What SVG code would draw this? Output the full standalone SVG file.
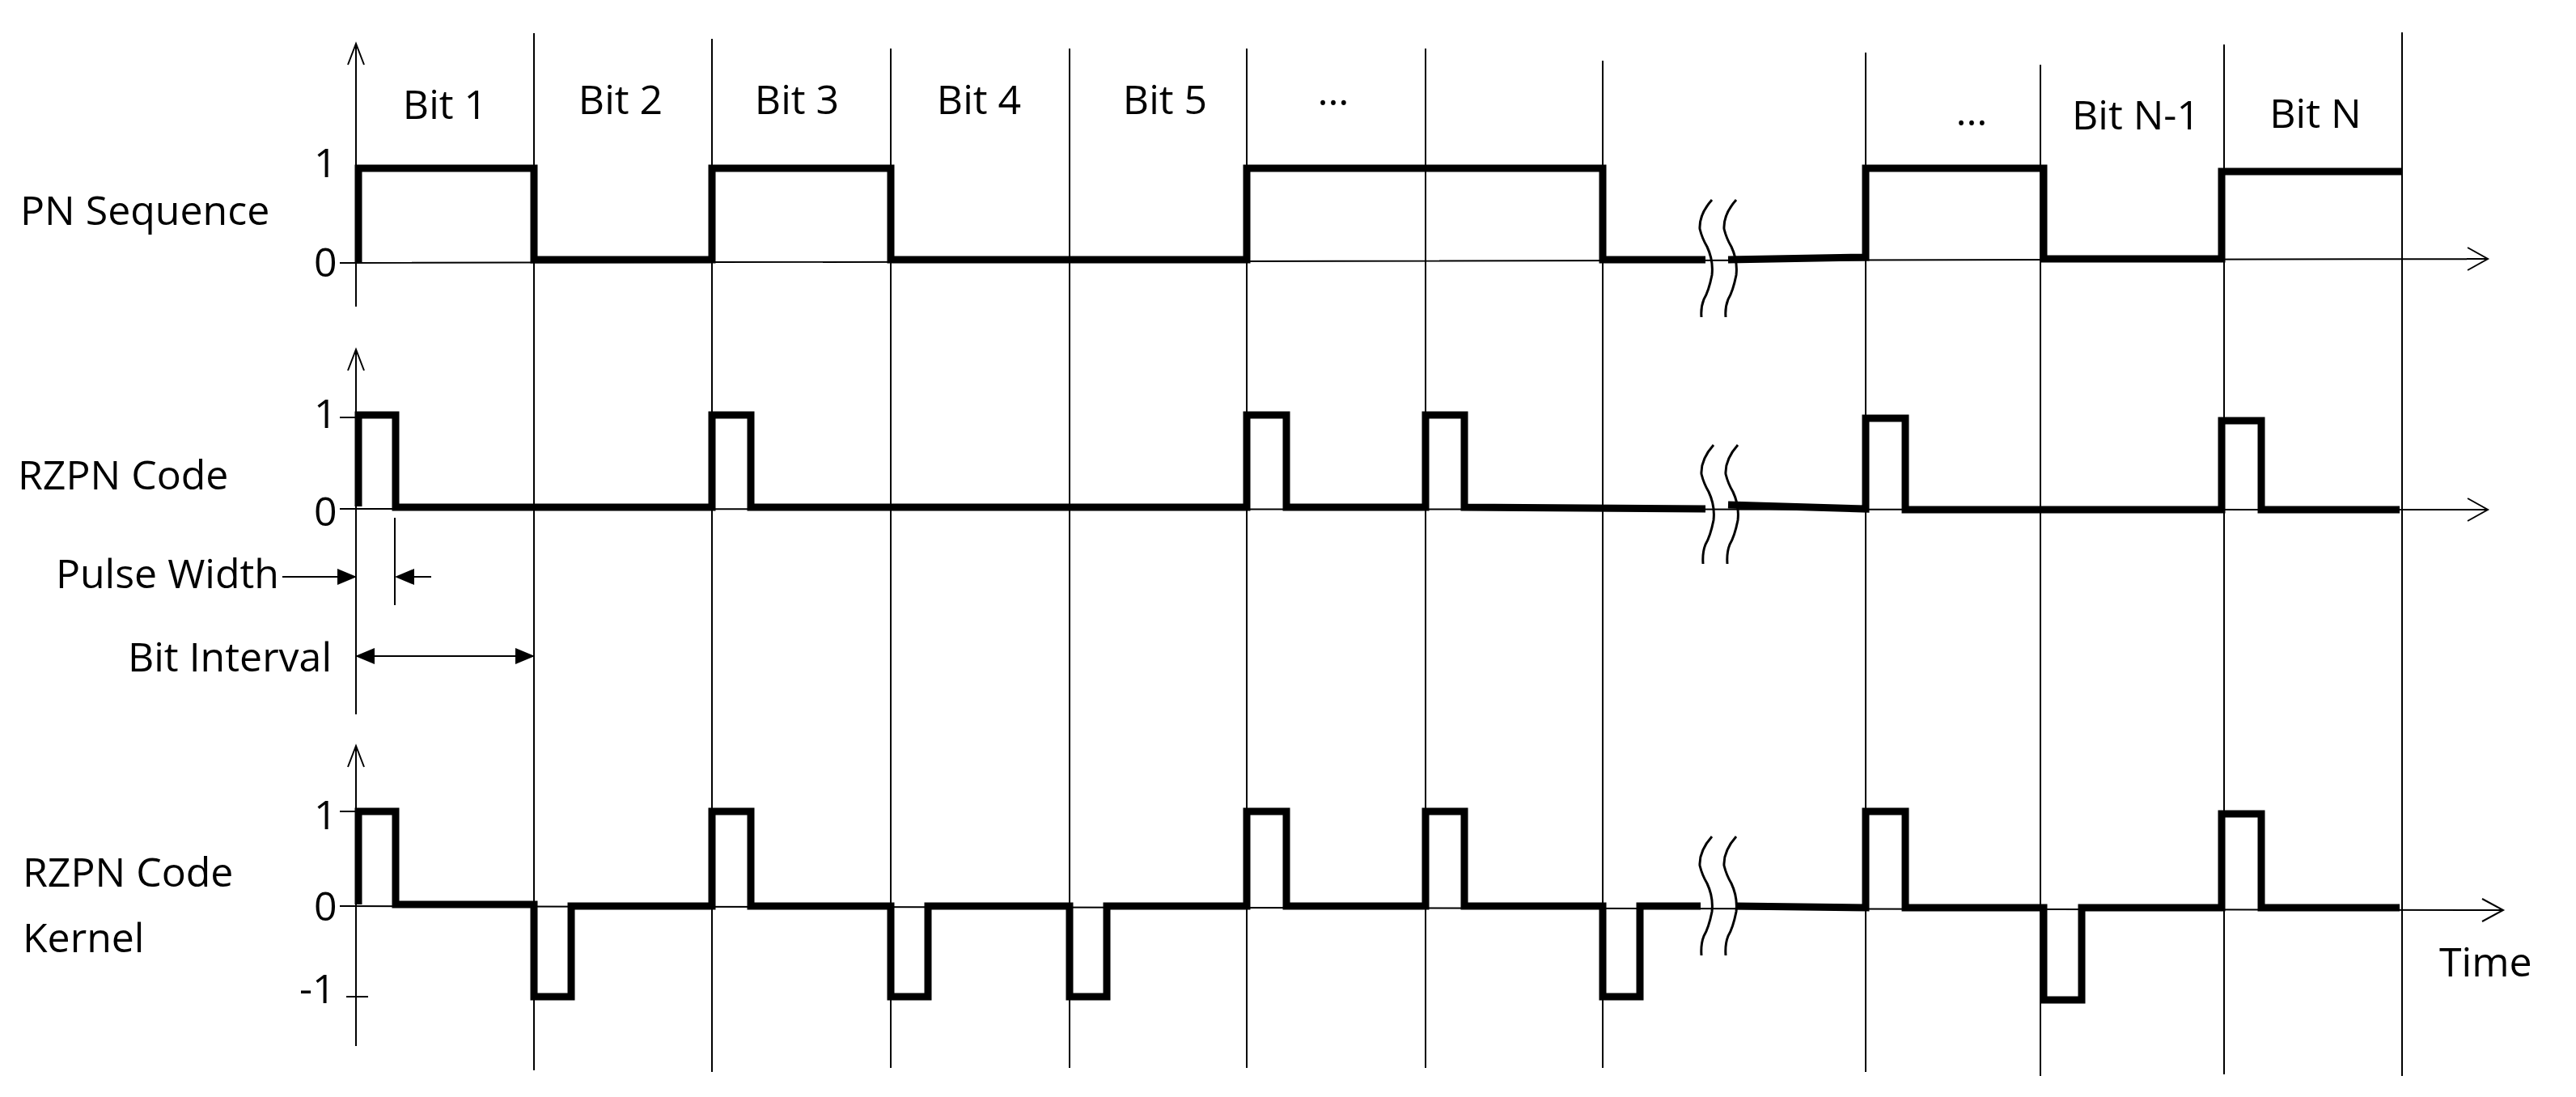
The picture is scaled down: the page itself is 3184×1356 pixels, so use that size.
<svg xmlns="http://www.w3.org/2000/svg" width="3184" height="1356" viewBox="0 0 3184 1356">
<style>
.t{font-family:"Open Sans","Liberation Sans",sans-serif;font-size:50px;fill:#000}
.ax{stroke:#000;stroke-width:2;fill:none}
.g{stroke:#000;stroke-width:2;fill:none}
.w{stroke:#000;stroke-width:9;fill:none;stroke-linejoin:miter}
.sq{stroke:#000;stroke-width:3;fill:none}
</style>
<defs>
<marker id="fa" markerWidth="12" markerHeight="12" refX="11" refY="6" orient="auto" markerUnits="userSpaceOnUse" viewBox="0 0 12 12"><path d="M0,0 L12,6 L0,12 Z" fill="#000"/></marker>
<marker id="fa2" markerWidth="24" markerHeight="24" refX="22" refY="12" orient="auto-start-reverse" markerUnits="userSpaceOnUse" viewBox="0 0 24 24"><path d="M0,2 L24,12 L0,22 Z" fill="#000"/></marker>
</defs>
<rect width="3184" height="1356" fill="#fff"/>
<g id="grid">
<path class="g" d="M660 41V1323M880 48V1325M1101 60V1320M1322 60V1320M1541 60V1320M1762 60V1320M1981 75V1320M2306 65V1325M2522 80V1330M2749 55V1328M2969 40V1330"/>
</g>
<g id="axes">
<path class="ax" d="M440 54V379M430 80L440 54L450 80M440 432V883M430 458L440 432L450 458M440 922V1293M430 948L440 922L450 948"/>
<path class="ax" d="M420 325L3075 320M3050 306L3075 320L3050 334M420 629L3075 630M3050 616L3075 630L3050 644M420 1120L3094 1125M3068 1111L3094 1125L3068 1139"/>
<path class="ax" d="M420 516H440M420 1003H440M428 1232H455M488 640V748"/>
</g>
<g id="labels">
<text class="t" x="25" y="278" font-size="54">PN Sequence</text>
<text class="t" x="22" y="605" font-size="54">RZPN Code</text>
<text class="t" x="28" y="1096" font-size="54">RZPN Code</text>
<text class="t" x="28" y="1177" font-size="54">Kernel</text>
<text class="t" x="388" y="219" font-size="52">1</text>
<text class="t" x="388" y="342" font-size="52">0</text>
<text class="t" x="388" y="529" font-size="52">1</text>
<text class="t" x="388" y="650" font-size="52">0</text>
<text class="t" x="388" y="1025" font-size="52">1</text>
<text class="t" x="388" y="1138" font-size="52">0</text>
<text class="t" x="370" y="1240" font-size="52">-1</text>
<text class="t" x="550" y="147" text-anchor="middle">Bit 1</text>
<text class="t" x="767" y="141" text-anchor="middle">Bit 2</text>
<text class="t" x="985" y="141" text-anchor="middle">Bit 3</text>
<text class="t" x="1210" y="141" text-anchor="middle">Bit 4</text>
<text class="t" x="1440" y="141" text-anchor="middle">Bit 5</text>
<text class="t" x="1648" y="130" text-anchor="middle">…</text>
<text class="t" x="2437" y="155" text-anchor="middle">…</text>
<text class="t" x="2640" y="160" text-anchor="middle">Bit N-1</text>
<text class="t" x="2862" y="158" text-anchor="middle">Bit N</text>
<text class="t" x="345" y="727" text-anchor="end" font-size="46">Pulse Width</text>
<text class="t" x="410" y="830" text-anchor="end" font-size="46">Bit Interval</text>
<text class="t" x="3015" y="1207">Time</text>
</g>
<g id="dims">
<path class="ax" d="M349 713H439" marker-end="url(#fa2)"/>
<path class="ax" d="M533 713H490" marker-end="url(#fa2)"/>
<path class="ax" d="M441 811H659" marker-start="url(#fa2)" marker-end="url(#fa2)"/>
</g>
<g id="pn">
<path class="w" d="M443 324V208H660V321H880V208H1101V321H1541V208H1981V321H2108M2136 321L2306 318V208H2526V320H2746V212H2969"/>
</g>
<g id="rzpn">
<path class="w" d="M443 626V513H489V627H880V513H928V627H1541V513H1590V627H1762V513H1810V627L2108 629M2136 624L2306 629V517H2355V630H2746V520H2795V630H2966"/>
</g>
<g id="kernel">
<path class="w" d="M443 1118V1003H489V1118H660V1232H706V1120H880V1003H928V1120H1101V1232H1147V1120H1322V1232H1368V1120H1541V1003H1590V1120H1762V1003H1810V1120H1981V1232H2027V1120H2102M2146 1120L2306 1122V1003H2355V1122H2526V1236H2573V1122H2746V1006H2795V1122H2966"/>
</g>
<g id="breaks">
<path class="sq" d="M2116 247Q2100 265 2101 283Q2104 295 2110 305Q2118 322 2116 340Q2112 360 2106 370Q2102 380 2103 392M2146 247Q2130 265 2131 283Q2134 295 2140 305Q2148 322 2146 340Q2142 360 2136 370Q2132 380 2133 392"/>
<path class="sq" d="M2118 550Q2102 568 2103 586Q2106 598 2112 608Q2120 625 2118 643Q2114 663 2108 673Q2104 683 2105 697M2148 550Q2132 568 2133 586Q2136 598 2142 608Q2150 625 2148 643Q2144 663 2138 673Q2134 683 2135 697M2116 1034Q2100 1052 2101 1070Q2104 1082 2110 1092Q2118 1109 2116 1127Q2112 1147 2106 1157Q2102 1167 2103 1181M2146 1034Q2130 1052 2131 1070Q2134 1082 2140 1092Q2148 1109 2146 1127Q2142 1147 2136 1157Q2132 1167 2133 1181"/>
</g>
</svg>
